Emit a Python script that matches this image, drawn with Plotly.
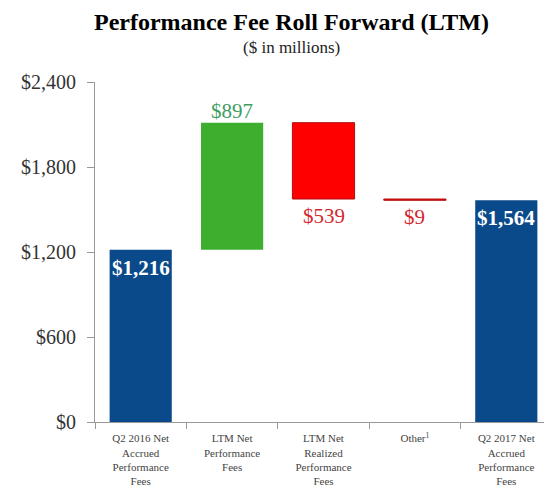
import plotly.graph_objects as go

categories = ["Q2 2016 Net<br>Accrued<br>Performance<br>Fees",
              "LTM Net<br>Performance<br>Fees",
              "LTM Net<br>Realized<br>Performance<br>Fees",
              "Other<sup>1</sup>",
              "Q2 2017 Net<br>Accrued<br>Performance<br>Fees"]
values = [1216, 897, -539, -9, 1564]
measures = ["absolute", "relative", "relative", "relative", "total"]
labels = ["$1,216", "$897", "$539", "$9", "$1,564"]
y_ticks = [0, 600, 1200, 1800, 2400]
y_ticklabels = ["$0", "$600", "$1,200", "$1,800", "$2,400"]

BLUE = "#0B4A8A"
GREEN = "#3EAE2E"
RED = "#FF0000"
FONT = "Liberation Serif"

fig = go.Figure(go.Waterfall(
    x=categories, y=values, measure=measures,
    increasing=dict(marker=dict(color=GREEN)),
    decreasing=dict(marker=dict(color=RED, line=dict(color="#B01010", width=1))),
    totals=dict(marker=dict(color=BLUE)),
    connector=dict(visible=False),
    hoverinfo="skip",
))

running = 0
annotations = []
for i, (m, v, lab) in enumerate(zip(measures, values, labels)):
    if m == "absolute":
        start, end = 0, v
        running = v
    elif m == "total":
        start, end = 0, running
    else:
        start, end = running, running + v
        running = running + v
    if m in ("absolute", "total"):
        annotations.append(dict(x=categories[i], y=end, text=f"<b>{lab}</b>", showarrow=False,
                                yanchor="top", yshift=-4, font=dict(color="white", size=21, family=FONT)))
    elif v > 0:
        annotations.append(dict(x=categories[i], y=end, text=lab, showarrow=False,
                                yanchor="bottom", yshift=-2, font=dict(color="#3E9E5E", size=21, family=FONT)))
    else:
        annotations.append(dict(x=categories[i], y=min(start, end), text=lab, showarrow=False,
                                yanchor="top", yshift=-3, font=dict(color="#D3272D", size=21, family=FONT)))

annotations.append(dict(xref="paper", yref="paper", x=0.43, y=1.0, yshift=60,
                        text="<b>Performance Fee Roll Forward (LTM)</b>", showarrow=False,
                        yanchor="middle", font=dict(size=24, family=FONT, color="black")))
annotations.append(dict(xref="paper", yref="paper", x=0.43, y=1.0, yshift=35,
                        text="($ in millions)", showarrow=False,
                        yanchor="middle", font=dict(size=17, family=FONT, color="#222")))

fig.update_layout(
    width=544, height=485,
    margin=dict(l=87, r=0, t=74, b=71),
    paper_bgcolor="white", plot_bgcolor="white",
    showlegend=False,
    waterfallgap=0.32,
    annotations=annotations,
    font=dict(family=FONT, color="#333"),
    xaxis=dict(showline=True, linecolor="#999", linewidth=1, tickson="boundaries",
               ticks="outside", ticklen=6, tickcolor="#999", showgrid=False,
               ticklabelstandoff=6, automargin=False,
               tickfont=dict(size=11, color="#444", family=FONT)),
    yaxis=dict(range=[0, 2400], tickvals=y_ticks, ticktext=y_ticklabels,
               showline=True, linecolor="#999", linewidth=1, ticks="outside",
               ticklen=7, tickcolor="#999", showgrid=False, zeroline=False,
               ticklabelstandoff=7, automargin=False,
               tickfont=dict(size=20, color="#333", family=FONT)),
)

fig.write_html("out.html")
